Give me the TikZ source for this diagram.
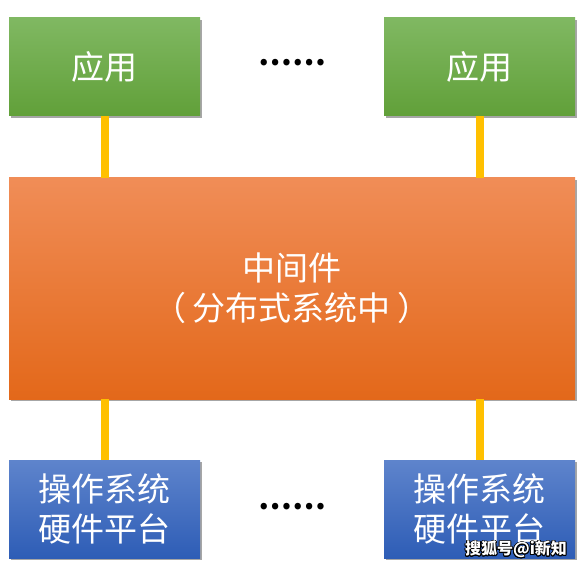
\documentclass[tikz,border=0pt]{standalone}
\usepackage{fontspec}
\usepackage[copies]{contour}
\newfontfamily\cjk{Noto Sans CJK SC}
\usetikzlibrary{shadows, positioning}

\definecolor{appTop}{HTML}{80B862}
\definecolor{appBot}{HTML}{61A039}
\definecolor{midTop}{HTML}{F08D57}
\definecolor{midBot}{HTML}{E3681A}
\definecolor{osTop}{HTML}{5E84CC}
\definecolor{osBot}{HTML}{2E5DB6}
\definecolor{linkYellow}{HTML}{FFC000}

\contourlength{0.8pt}

\tikzset{
    box/.style={rectangle, inner sep=0pt, text=white, align=center,
        font=\cjk\fontsize{33}{40}\selectfont,
        drop shadow={shadow xshift=1.5pt, shadow yshift=-2pt, opacity=0.35, fill=black}},
    appbox/.style={box, top color=appTop, bottom color=appBot,
        minimum width=191pt, minimum height=98pt},
    midbox/.style={box, top color=midTop, bottom color=midBot,
        minimum width=566pt, minimum height=221pt},
    osbox/.style={box, top color=osTop, bottom color=osBot,
        minimum width=191pt, minimum height=98pt},
    link/.style={draw=linkYellow, line width=8pt},
    dots/.style={font=\cjk\bfseries\fontsize{30}{30}\selectfont, text=black}
}

\begin{document}
\begin{tikzpicture}[x=1pt, y=-1pt]

    \useasboundingbox (0,0) rectangle (581,569);

    % --- Applications ---
    \node[appbox] (app1) at (104.5, 67) {应用};
    \node[appbox] (app2) at (479.5, 67) {应用};
    \node[dots] (topdots) at (292, 63) {……};

    % --- Middleware ---
    \node[midbox] (mid) at (292, 288.5) {中间件\\（\hspace{7pt}分布式系统中\hspace{7pt}）};

    % --- OS / hardware ---
    \node[osbox] (os1) at (104.5, 509) {操作系统\\硬件平台};
    \node[osbox] (os2) at (479.5, 509) {操作系统\\硬件平台};
    \node[dots] (botdots) at (292, 507) {……};

    % Links
    \draw[link] (app1.south) -- (app1.south |- mid.north);
    \draw[link] (app2.south) -- (app2.south |- mid.north);
    \draw[link] (os1.north) -- (os1.north |- mid.south);
    \draw[link] (os2.north) -- (os2.north |- mid.south);

    % Watermark
    \node[font=\cjk\bfseries\fontsize{16}{16}\selectfont, text=white] (mark) at (516, 550) {\contour{black}{搜狐号@i新知}};

\end{tikzpicture}
\end{document}
